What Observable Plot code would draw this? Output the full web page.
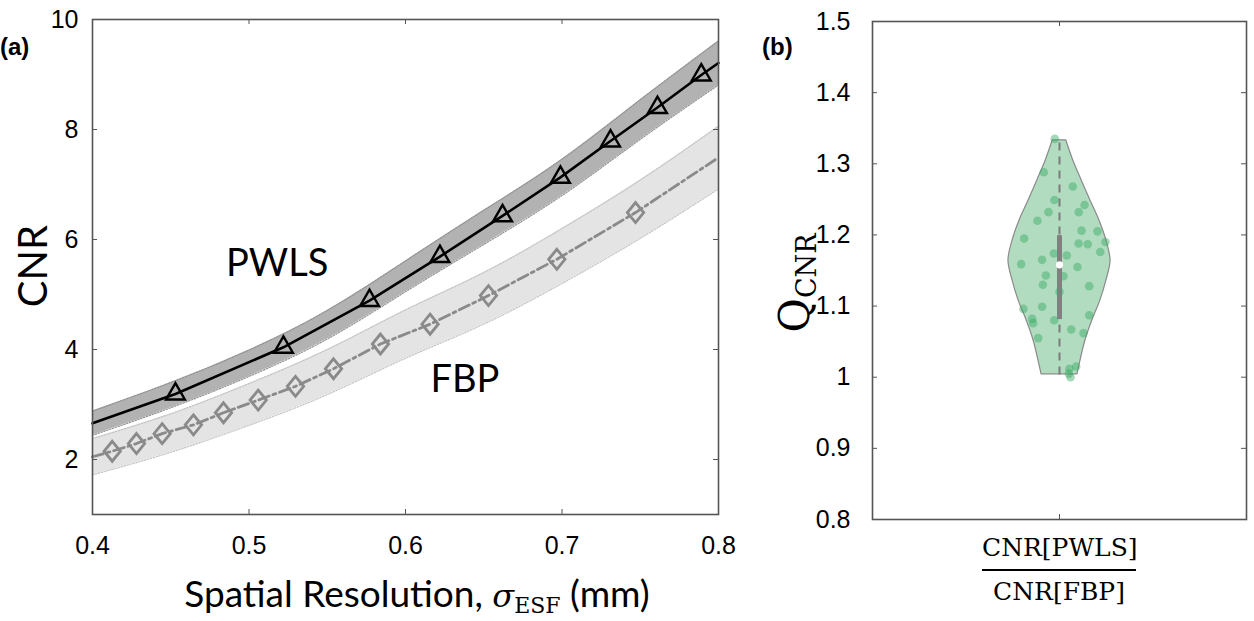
<!DOCTYPE html>
<html><head><meta charset="utf-8">
<script src="https://cdn.jsdelivr.net/npm/d3@7"></script>
<script src="https://cdn.jsdelivr.net/npm/@observablehq/plot@0.6"></script>
<style>
body{margin:0;background:#fff;width:1254px;height:621px;position:relative;overflow:hidden;font-family:"Liberation Sans",Arial,sans-serif;color:#000;}
.abs{position:absolute;white-space:nowrap;line-height:1;}
.rot{transform:translate(-50%,-50%) rotate(-90deg);}
.ctr{transform:translate(-50%,-50%);}
</style></head><body>
<div id="a" class="abs" style="left:0;top:0"></div>
<div id="b" class="abs" style="left:760px;top:0"></div>
<div class="abs" style="left:0px;top:33px;font:bold 24px 'Liberation Sans',Arial,sans-serif">(a)</div>
<div class="abs" style="left:762px;top:33px;font:bold 24px 'Liberation Sans',Arial,sans-serif">(b)</div>
<div class="abs rot" style="left:32px;top:266px;font:40px Lato,sans-serif">CNR</div>
<div class="abs ctr" style="left:417px;top:594px;padding:2px 0 6px 0;font:37px Lato,sans-serif">Spatial Resolution, <i style="font-family:'DejaVu Serif',serif;font-size:32px">σ</i><span style="font-family:'DejaVu Serif',serif;font-size:22px;position:relative;top:6px">ESF</span> (mm)</div>
<div class="abs rot" style="left:794px;top:283px;font:42px 'DejaVu Serif',serif">Q<span style="font-size:27px;position:relative;top:7px">CNR</span></div>
<div class="abs" style="left:982px;top:533px;width:154px;text-align:center;font:25px 'DejaVu Serif',serif">CNR[PWLS]</div>
<div class="abs" style="left:982px;top:569px;width:154px;height:2px;background:#000"></div>
<div class="abs" style="left:982px;top:577px;width:154px;text-align:center;font:25px 'DejaVu Serif',serif">CNR[FBP]</div>
<script>
// ---- Panel (a) data ----
const xTicksA = [0.4, 0.5, 0.6, 0.7, 0.8];
const xTickLabelsA = ["0.4", "0.5", "0.6", "0.7", "0.8"];
const yTicksA = [2, 4, 6, 8, 10];
const yTickLabelsA = ["2", "4", "6", "8", "10"];

const bandX = [0.40, 0.45, 0.50, 0.55, 0.60, 0.65, 0.70, 0.75, 0.80];
const pwlsLow  = [2.44, 2.94, 3.51, 4.19, 5.05, 5.91, 6.80, 7.82, 8.81];
const pwlsHigh = [2.88, 3.40, 3.99, 4.71, 5.61, 6.53, 7.46, 8.54, 9.61];
const fbpLow   = [1.72, 2.13, 2.62, 3.18, 3.84, 4.46, 5.20, 6.02, 6.92];
const fbpHigh  = [2.38, 2.83, 3.38, 4.00, 4.72, 5.40, 6.20, 7.08, 8.06];

const pwlsLineX = [0.40, 0.453, 0.522, 0.577, 0.622, 0.662, 0.699, 0.731, 0.761, 0.789, 0.80];
const pwlsLineY = [2.66, 3.19, 4.04, 4.89, 5.69, 6.43, 7.13, 7.79, 8.40, 8.99, 9.21];
const pwlsMarkX = [0.453, 0.522, 0.577, 0.622, 0.662, 0.699, 0.731, 0.761, 0.789];
const pwlsMarkY = [3.19, 4.04, 4.89, 5.69, 6.43, 7.13, 7.79, 8.40, 8.99];

const fbpLineX = [0.40, 0.4126, 0.4281, 0.4445, 0.4645, 0.4837, 0.5059, 0.5297, 0.554, 0.584, 0.6157, 0.653, 0.6967, 0.747, 0.80];
const fbpLineY = [2.05, 2.15, 2.29, 2.47, 2.63, 2.85, 3.08, 3.33, 3.65, 4.10, 4.46, 4.98, 5.64, 6.49, 7.49];
const fbpMarkX = [0.4126, 0.4281, 0.4445, 0.4645, 0.4837, 0.5059, 0.5297, 0.554, 0.584, 0.6157, 0.653, 0.6967, 0.747];
const fbpMarkY = [2.15, 2.29, 2.47, 2.63, 2.85, 3.08, 3.33, 3.65, 4.10, 4.46, 4.98, 5.64, 6.49];

const seriesLabels = ["PWLS", "FBP"];
const seriesLabelX = [0.518, 0.638];
const seriesLabelY = [5.55, 3.45];

// ---- Panel (b) data ----
const yTicksB = [0.8, 0.9, 1.0, 1.1, 1.2, 1.3, 1.4, 1.5];
const yTickLabelsB = ["0.8", "0.9", "1", "1.1", "1.2", "1.3", "1.4", "1.5"];
const violinQ  = [1.333, 1.305, 1.277, 1.248, 1.220, 1.192, 1.164, 1.136, 1.108, 1.080, 1.052, 1.023, 1.004];
const violinHW = [0.036, 0.073, 0.118, 0.166, 0.214, 0.251, 0.273, 0.251, 0.219, 0.176, 0.139, 0.112, 0.096];
const pointQ = [1.335, 1.288, 1.268, 1.249, 1.232, 1.220, 1.232, 1.242, 1.195, 1.206, 1.205, 1.188, 1.187, 1.190, 1.176, 1.174, 1.171, 1.159, 1.165, 1.155, 1.143, 1.142, 1.130, 1.128, 1.120, 1.096, 1.099, 1.082, 1.076, 1.080, 1.087, 1.067, 1.062, 1.055, 1.012, 1.015, 1.000, 1.005];
const pointJitter = [-0.025, -0.084, 0.071, -0.027, -0.059, -0.118, 0.103, 0.134, -0.189, 0.118, 0.203, 0.102, 0.151, 0.246, 0.218, -0.030, 0.039, -0.205, -0.093, 0.096, -0.073, 0.021, -0.089, 0.159, 0.0, -0.193, -0.093, -0.146, -0.141, -0.028, 0.159, 0.063, 0.128, -0.114, 0.053, 0.089, 0.059, 0.050];
const qMin = 1.003, qMax = 1.333, q1 = 1.081, q3 = 1.199, qMedian = 1.158;
const category = 1;

// ---- build tables ----
const bands = bandX.map((x, i) => ({x, pl: pwlsLow[i], ph: pwlsHigh[i], fl: fbpLow[i], fh: fbpHigh[i]}));
const pwlsLine = pwlsLineX.map((x, i) => ({x, y: pwlsLineY[i]}));
const fbpLine = fbpLineX.map((x, i) => ({x, y: fbpLineY[i]}));
const pwlsMarks = pwlsMarkX.map((x, i) => ({x, y: pwlsMarkY[i]}));
const fbpMarks = fbpMarkX.map((x, i) => ({x, y: fbpMarkY[i]}));
const labelsA = seriesLabels.map((t, i) => ({t, x: seriesLabelX[i], y: seriesLabelY[i]}));

// wider diamond glyph (MATLAB-like)
const wideDiamond = {
  draw(context, size) {
    const h = Math.sqrt(size) * 0.75, w = h * 0.82;
    context.moveTo(0, -h); context.lineTo(w, 0); context.lineTo(0, h); context.lineTo(-w, 0); context.closePath();
  }
};

const W_A = 626, H_A = 495, TK = 5;
const chartA = Plot.plot({
  width: 740, height: 621,
  marginLeft: 92, marginRight: 22, marginTop: 19, marginBottom: 107,
  x: {domain: [0.4, 0.8]},
  y: {domain: [1, 10]},
  style: {fontFamily: "'Liberation Sans', Arial, sans-serif", fontSize: "25px", color: "#000", background: "#fff", overflow: "visible"},
  marks: [
    Plot.areaY(bands, {x: "x", y1: "fl", y2: "fh", fill: "#e4e4e4", curve: "natural"}),
    Plot.line(bands, {x: "x", y: "fl", stroke: "#c4c4c4", strokeWidth: 1.2, strokeDasharray: "1.5,1.5", curve: "natural"}),
    Plot.line(bands, {x: "x", y: "fh", stroke: "#c4c4c4", strokeWidth: 1.2, strokeDasharray: "1.5,1.5", curve: "natural"}),
    Plot.areaY(bands, {x: "x", y1: "pl", y2: "ph", fill: "#b2b2b2", curve: "natural"}),
    Plot.line(bands, {x: "x", y: "pl", stroke: "#939393", strokeWidth: 1.2, strokeDasharray: "1.5,1.5", curve: "natural"}),
    Plot.line(bands, {x: "x", y: "ph", stroke: "#939393", strokeWidth: 1.2, strokeDasharray: "1.5,1.5", curve: "natural"}),
    Plot.line(fbpLine, {x: "x", y: "y", stroke: "#8a8a8a", strokeWidth: 2.8, strokeDasharray: "11,4,3,4"}),
    Plot.dot(fbpMarks, {x: "x", y: "y", symbol: wideDiamond, r: 7.5, stroke: "#8a8a8a", strokeWidth: 2.8, fill: "none"}),
    Plot.line(pwlsLine, {x: "x", y: "y", stroke: "#000", strokeWidth: 2.6}),
    Plot.dot(pwlsMarks, {x: "x", y: "y", symbol: "triangle", r: 7, stroke: "#000", strokeWidth: 2.4, fill: "none"}),
    Plot.text(labelsA, {x: "x", y: "y", text: "t", fontSize: 38, fontFamily: "Lato, sans-serif", fill: "#000"}),
    Plot.frame({stroke: "#555", strokeWidth: 1.6}),
    Plot.tickX(xTicksA, {x: d => d, insetTop: H_A - TK, stroke: "#555"}),
    Plot.tickX(xTicksA, {x: d => d, insetBottom: H_A - TK, stroke: "#555"}),
    Plot.tickY(yTicksA, {y: d => d, insetRight: W_A - TK, stroke: "#555"}),
    Plot.tickY(yTicksA, {y: d => d, insetLeft: W_A - TK, stroke: "#555"}),
    Plot.axisX(xTicksA, {tickSize: 0, tickPadding: 22, tickFormat: d => xTickLabelsA[xTicksA.indexOf(d)], label: null}),
    Plot.axisY(yTicksA, {tickSize: 0, tickPadding: 14, tickFormat: d => yTickLabelsA[yTicksA.indexOf(d)], label: null})
  ]
});
document.getElementById("a").append(chartA);

const violin = violinQ.map((q, i) => ({q, x1: category - violinHW[i], x2: category + violinHW[i]}));
const points = pointQ.map((q, i) => ({q, x: category + pointJitter[i]}));
const W_B = 374, H_B = 498;
const chartB = Plot.plot({
  width: 494, height: 621,
  marginLeft: 112, marginRight: 8, marginTop: 21, marginBottom: 102,
  x: {domain: [0, 2], axis: null},
  y: {domain: [0.8, 1.5]},
  style: {fontFamily: "'Liberation Sans', Arial, sans-serif", fontSize: "25px", color: "#000", background: "#fff", overflow: "visible"},
  marks: [
    Plot.areaX(violin, {y: "q", x1: "x1", x2: "x2", fill: "#b2dcc0", stroke: "#8a8a8a", strokeWidth: 1.2, curve: "catmull-rom"}),
    Plot.dot(points, {x: "x", y: "q", r: 4.3, fill: "#35a862", fillOpacity: 0.45}),
    Plot.ruleX([category], {y1: qMin, y2: qMax, stroke: "#7a7a7a", strokeWidth: 2, strokeDasharray: "8,6"}),
    Plot.ruleX([category], {y1: q1, y2: q3, stroke: "#808080", strokeWidth: 5}),
    Plot.dot([category], {x: d => d, y: qMedian, r: 3.6, fill: "#fff"}),
    Plot.frame({stroke: "#555", strokeWidth: 1.6}),
    Plot.tickX([category], {x: d => d, insetTop: H_B - TK, stroke: "#555"}),
    Plot.tickX([category], {x: d => d, insetBottom: H_B - TK, stroke: "#555"}),
    Plot.tickY(yTicksB, {y: d => d, insetRight: W_B - TK, stroke: "#555"}),
    Plot.tickY(yTicksB, {y: d => d, insetLeft: W_B - TK, stroke: "#555"}),
    Plot.axisY(yTicksB, {tickSize: 0, tickPadding: 22, tickFormat: d => yTickLabelsB[yTicksB.indexOf(d)], label: null})
  ]
});
document.getElementById("b").append(chartB);
</script>
</body></html>
